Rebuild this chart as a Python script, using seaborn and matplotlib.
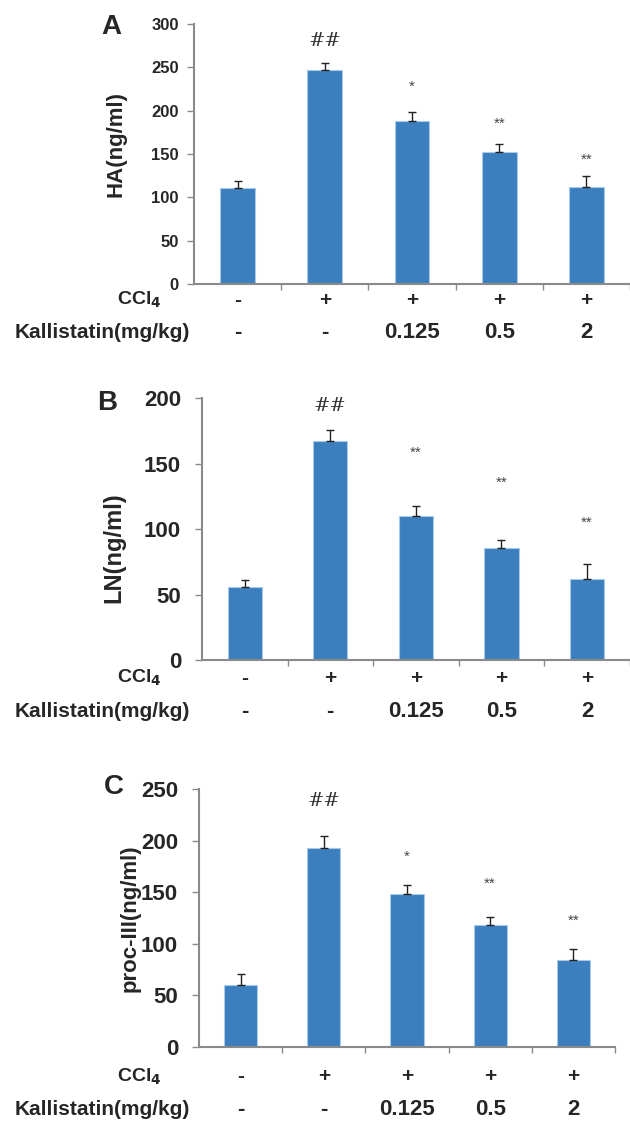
import numpy as np
import pandas as pd
import matplotlib
matplotlib.use("Agg")
import matplotlib.pyplot as plt
import matplotlib.transforms as mtransforms
import seaborn as sns

# Groups and the two treatment rows printed under each panel
groups = ["G1", "G2", "G3", "G4", "G5"]
ccl4_row = ["-", "+", "+", "+", "+"]
kal_row = ["-", "-", "0.125", "0.5", "2"]

# Panel A: HA
ha_mean = [110.5, 247.0, 188.0, 152.0, 111.7]
ha_err = [8.0, 8.0, 11.0, 10.0, 13.0]
ha_marks = ["", "##", "*", "**", "**"]
ha_mark_y = [0, 280, 227, 185, 143]

# Panel B: LN
ln_mean = [55.8, 166.9, 109.6, 85.4, 62.2]
ln_err = [5.3, 8.9, 8.1, 6.3, 11.2]
ln_marks = ["", "##", "**", "**", "**"]
ln_mark_y = [0, 193.6, 158, 135, 104.5]

# Panel C: proc-III
pc_mean = [60.6, 193.3, 148.3, 117.9, 84.2]
pc_err = [10.0, 11.7, 8.7, 8.4, 11.3]
pc_marks = ["", "##", "*", "**", "**"]
pc_mark_y = [0, 238.6, 184, 158, 122.4]

BAR_COLOR = "#3b7fbf"
SPINE = "#8a8a8a"
NARROW = ["Liberation Sans Narrow", "Liberation Sans", "DejaVu Sans"]

sns.set_theme(style="white")
plt.rcParams["font.family"] = ["Liberation Sans", "DejaVu Sans"]

fig = plt.figure(figsize=(6.3, 11.21), dpi=100)

panels = [
    # letter, ylabel, mean, err, marks, mark_y, ylim, rect, xmax, letter pos,
    # ylabel x, ylabel y, row y, tick size, tick pad, ylabel size
    ("A", "HA(ng/ml)", ha_mean, ha_err, ha_marks, ha_mark_y, 300,
     [0.308, 0.7467, 0.692, 0.2319], 4.45, (111, 27), -0.179, 0.54,
     (-0.062, -0.185), 12, 6, 16),
    ("B", "LN(ng/ml)", ln_mean, ln_err, ln_marks, ln_mark_y, 200,
     [0.3206, 0.4112, 0.679, 0.2337], 4.5, (107, 403), -0.205, 0.43,
     (-0.069, -0.198), 16, 10, 17),
    ("C", "proc-III(ng/ml)", pc_mean, pc_err, pc_marks, pc_mark_y, 250,
     [0.316, 0.066, 0.660, 0.230], 4.5, (114, 787), -0.166, 0.5,
     (-0.116, -0.244), 16, 10, 16),
]

for (letter, ylab, mean, err, marks, mark_y, ymax, rect, xmax,
     lpos, ylx, yly, rowy, tsize, tpad, lsize) in panels:
    ax = fig.add_axes(rect)
    df = pd.DataFrame({"group": groups, "value": mean})
    sns.barplot(data=df, x="group", y="value", color=BAR_COLOR, width=0.4,
                saturation=1, edgecolor="#a9c9ea", linewidth=0.8,
                errorbar=None, ax=ax)
    xs = np.arange(len(groups))
    ax.errorbar(xs, mean, yerr=[np.zeros(len(err)), err], fmt="none",
                ecolor="#222222", elinewidth=1.0, capsize=3, capthick=1.0)

    for x, m, y in zip(xs, marks, mark_y):
        if not m:
            continue
        if m == "##":
            ax.text(x, y, m, ha="center", va="center", fontsize=14,
                    family="DejaVu Serif", color="#333333")
        else:
            ax.text(x, y, m, ha="center", va="center", fontsize=11,
                    color="#444444")

    ax.set_xlim(-0.5, xmax)
    ax.set_ylim(0, ymax)
    ax.set_yticks(np.arange(0, ymax + 1, 50))
    ax.set_yticklabels([str(v) for v in range(0, ymax + 1, 50)],
                       fontsize=tsize, fontweight="bold", family=NARROW)
    ax.set_xticks([])
    ax.set_xticks(xs + 0.5, minor=True)
    ax.tick_params(axis="x", which="minor", direction="out", length=4,
                   width=1, color=SPINE, bottom=True)
    ax.tick_params(axis="y", direction="out", length=5, width=1,
                   color=SPINE, left=True, pad=tpad)
    ax.set_xlabel("")
    ax.set_ylabel(ylab, fontsize=lsize, fontweight="bold", va="center")
    ax.yaxis.set_label_coords(ylx, yly)

    for side in ["top", "right"]:
        ax.spines[side].set_visible(False)
    for side in ["left", "bottom"]:
        ax.spines[side].set_color(SPINE)
        ax.spines[side].set_linewidth(1.5)

    # treatment rows under the axis
    trans = mtransforms.blended_transform_factory(ax.transData, ax.transAxes)
    for x, c, k in zip(xs, ccl4_row, kal_row):
        ax.text(x, rowy[0], c, transform=trans, ha="center", va="center",
                fontsize=15, fontweight="bold")
        ax.text(x, rowy[1], k, transform=trans, ha="center", va="center",
                fontsize=16, fontweight="bold", family=NARROW)
    ftrans = mtransforms.blended_transform_factory(fig.transFigure, ax.transAxes)
    ax.text(139 / 630, rowy[0], r"CCl$_{\mathbf{4}}$", transform=ftrans,
            ha="center", va="center", fontsize=14, fontweight="bold")
    ax.text(15 / 630, rowy[1], "Kallistatin(mg/kg)", transform=ftrans,
            ha="left", va="center", fontsize=15, fontweight="bold")

    fig.text(lpos[0] / 630, 1 - lpos[1] / 1121, letter, ha="center",
             va="center", fontsize=20, fontweight="bold")

fig.savefig("out.png", dpi=100, facecolor="white")
